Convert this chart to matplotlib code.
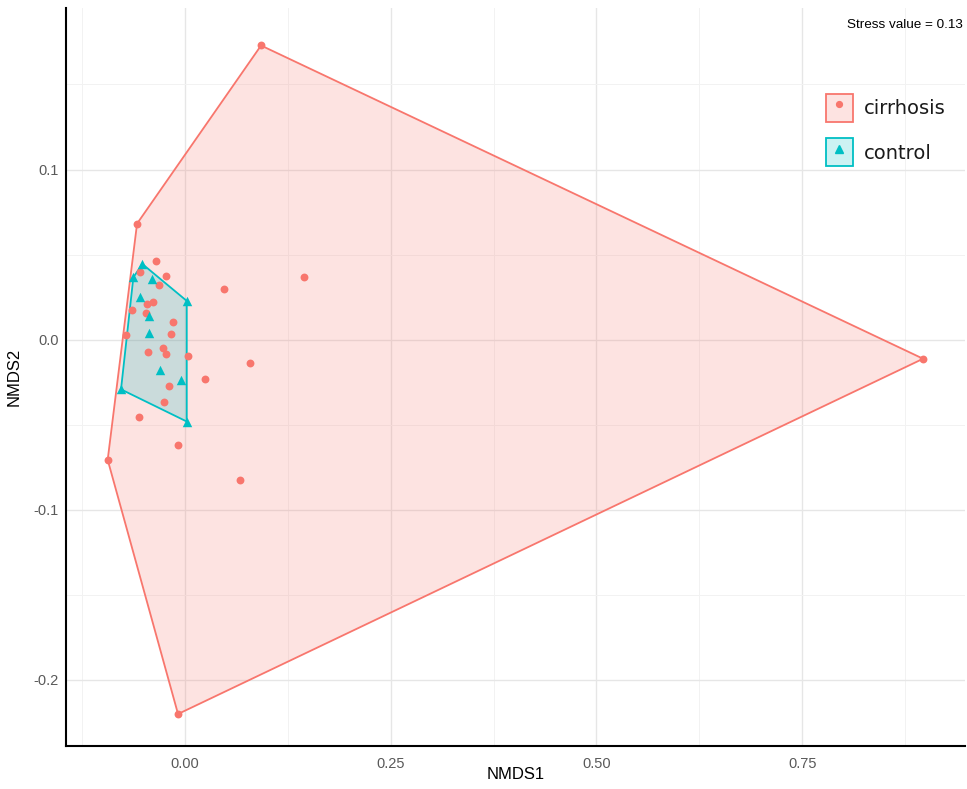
import numpy as np
import matplotlib
matplotlib.use("Agg")
import matplotlib.pyplot as plt
from matplotlib.patches import Patch, Polygon
from matplotlib.lines import Line2D
from matplotlib.ticker import MultipleLocator

# NMDS scores
cirrhosis_x = [0.0924, -0.0583, -0.0940, -0.0085, 0.897, -0.0356, -0.0547, -0.0227,
               -0.0316, 0.0478, 0.1446, -0.0641, -0.0458, -0.0393, -0.0478, -0.0146,
               -0.0170, -0.0717, -0.0446, -0.0264, -0.0235, 0.0033, 0.0786, 0.0239,
               -0.0194, -0.0259, -0.0559, -0.0089, 0.0669]
cirrhosis_y = [0.1729, 0.0682, -0.0706, -0.2200, -0.0112, 0.0463, 0.0396, 0.0372,
               0.0324, 0.0300, 0.0369, 0.0176, 0.0208, 0.0219, 0.0155, 0.0104,
               0.0035, 0.0028, -0.0072, -0.0049, -0.0086, -0.0098, -0.0137, -0.0234,
               -0.0275, -0.0369, -0.0455, -0.0618, -0.0824]
control_x = [-0.0519, -0.0628, -0.0397, -0.0543, 0.0021, -0.0438, -0.0434,
             -0.0308, -0.0045, -0.0778, 0.0021]
control_y = [0.0445, 0.0366, 0.0357, 0.0249, 0.0228, 0.0137, 0.0039,
             -0.0178, -0.0239, -0.0292, -0.0481]

groups = ["cirrhosis", "control"]
colors = {"cirrhosis": "#F8766D", "control": "#00BFC4"}
markers = {"cirrhosis": "o", "control": "^"}
sizes = {"cirrhosis": 32, "control": 46}
stress = 0.13


def hull(xs, ys):
    # monotone chain convex hull
    pts = sorted(set(zip(xs, ys)))
    def cross(o, a, b):
        return (a[0]-o[0])*(b[1]-o[1]) - (a[1]-o[1])*(b[0]-o[0])
    lower, upper = [], []
    for p in pts:
        while len(lower) >= 2 and cross(lower[-2], lower[-1], p) <= 0:
            lower.pop()
        lower.append(p)
    for p in reversed(pts):
        while len(upper) >= 2 and cross(upper[-2], upper[-1], p) <= 0:
            upper.pop()
        upper.append(p)
    return np.array(lower[:-1] + upper[:-1])


data = {"cirrhosis": (cirrhosis_x, cirrhosis_y), "control": (control_x, control_y)}

fig = plt.figure(figsize=(9.67, 7.89), dpi=100)
ax = fig.add_axes([0.0683, 0.0545, 0.9297, 0.9355])

for g in groups:
    xs, ys = data[g]
    h = hull(xs, ys)
    ax.add_patch(Polygon(h, closed=True, facecolor=colors[g], alpha=0.2,
                         edgecolor="none", zorder=2))
    ax.add_patch(Polygon(h, closed=True, facecolor="none",
                         edgecolor=colors[g], linewidth=1.3, zorder=3))
    ax.scatter(xs, ys, marker=markers[g], color=colors[g], s=sizes[g],
               linewidths=0, zorder=4)

ax.set_xlim(-0.1446, 0.948)
ax.set_ylim(-0.2388, 0.195)
ax.xaxis.set_minor_locator(MultipleLocator(0.125))
ax.yaxis.set_minor_locator(MultipleLocator(0.05))
ax.set_xticks([0, 0.25, 0.5, 0.75])
ax.set_xticklabels(["0.00", "0.25", "0.50", "0.75"])
ax.set_yticks([-0.2, -0.1, 0.0, 0.1])
ax.set_yticklabels(["-0.2", "-0.1", "0.0", "0.1"])
ax.grid(True, which="major", color="#E6E6E6", linewidth=1.0, zorder=0)
ax.grid(True, which="minor", color="#F2F2F2", linewidth=0.7, zorder=0)
ax.set_axisbelow(True)
ax.tick_params(which="both", length=0, labelsize=10.5, labelcolor="#595959")
ax.tick_params(axis="x", pad=8)
ax.tick_params(axis="y", pad=5.5)
for lab in ax.get_xticklabels() + ax.get_yticklabels():
    lab.set_family("Liberation Sans")

for s in ["top", "right"]:
    ax.spines[s].set_visible(False)
for s in ["left", "bottom"]:
    ax.spines[s].set_linewidth(1.5)
    ax.spines[s].set_color("black")

ax.set_xlabel("NMDS1", fontsize=12, family="Liberation Sans", labelpad=-3)
ax.set_ylabel("NMDS2", fontsize=12, family="Liberation Sans", labelpad=8)

ax.text(0.998, 0.985, "Stress value = %.2f" % stress, transform=ax.transAxes,
        ha="right", va="top", fontsize=9.7, family="Liberation Sans")

handles = []
for g in groups:
    box = Patch(facecolor=colors[g] + "33", edgecolor=colors[g], linewidth=1.3)
    pt = Line2D([], [], marker=markers[g], color=colors[g], linestyle="none",
                markersize=4.2 if g == "cirrhosis" else 6)
    handles.append((box, pt))
leg = ax.legend(handles, groups, loc="upper left", bbox_to_anchor=(0.845, 0.8835),
                frameon=False, fontsize=14, handlelength=1.39, handleheight=1.84,
                handletextpad=0.55, labelspacing=0.85, borderpad=0, borderaxespad=0)
for t in leg.get_texts():
    t.set_color("#1A1A1A")

fig.savefig("out.png", dpi=100)
